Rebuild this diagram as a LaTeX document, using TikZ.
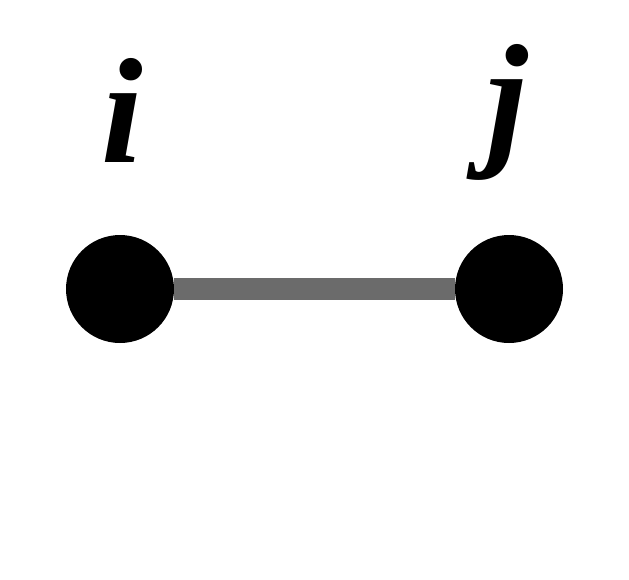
\documentclass[tikz,border=0pt]{standalone}
\usepackage{fontspec}
\setmainfont{Liberation Serif}
\begin{document}
\begin{tikzpicture}[x=1pt,y=-1pt,
  vtx/.style={circle,fill=black,minimum size=108pt,inner sep=0pt},
  lbl/.style={anchor=base,inner sep=0pt,font=\fontsize{150}{150}\selectfont\bfseries\itshape},
  edge/.style={line width=22pt,color=black!58}]
\useasboundingbox (0,0) rectangle (629,579);
\node[vtx] (i) at (120,289) {};
\node[vtx] (j) at (509,289) {};
\draw[edge] (i) -- (j);
\node[lbl] (li) at (122,162) {i};
\node[lbl] (lj) at (507,148) {j};
\end{tikzpicture}
\end{document}
